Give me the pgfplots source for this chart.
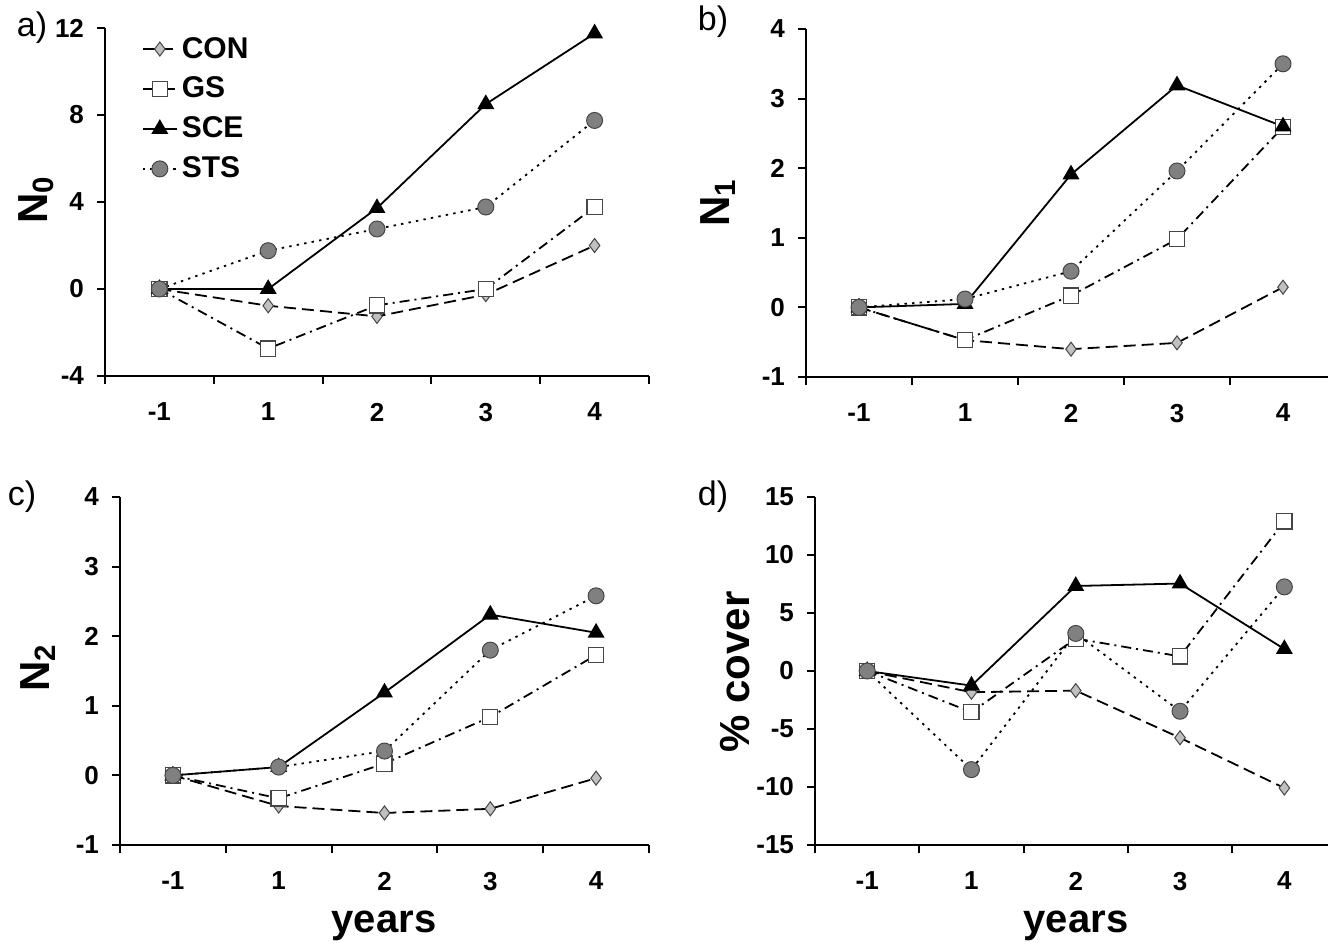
\documentclass[border=0pt]{standalone}
\usepackage{fontspec}
\setmainfont{Liberation Sans}
\usepackage{pgfplots}
\pgfplotsset{compat=1.18}

\definecolor{conf}{RGB}{192,192,192}
\definecolor{stsf}{RGB}{128,128,128}
\definecolor{edge}{RGB}{70,70,70}

\pgfplotsset{
  panel/.style={
    scale only axis, anchor=south west, clip=false,
    axis lines*=left, axis line style={line width=1pt, black},
    xmin=-0.5, xmax=4.5,
    xtick={-0.5,0.5,1.5,2.5,3.5,4.5}, xticklabels={},
    extra x ticks={0,1,2,3,4}, extra x tick labels={-1,1,2,3,4},
    extra x tick style={major tick length=0pt},
    major tick length=4pt, tick align=outside,
    tick style={line width=1pt, black},
    ticklabel style={font=\fontsize{13}{14}\selectfont\bfseries},
    xticklabel style={yshift=-10pt},
    yticklabel style={xshift=-3pt},
  },
  con/.style={black, line width=0.9pt, dash pattern=on 6pt off 3pt,
    mark=diamond*, mark size=3.5pt, mark options={solid, fill=conf, draw=edge, line width=0.5pt}},
  gs/.style={black, line width=0.9pt, dash pattern=on 5pt off 2.5pt on 1pt off 2.5pt,
    mark=square*, mark size=3.8pt, mark options={solid, fill=white, draw=edge, line width=0.6pt}},
  sce/.style={black, line width=0.9pt, solid,
    mark=triangle*, mark size=4pt, mark options={solid, fill=black, draw=black}},
  sts/.style={black, line width=0.9pt, dash pattern=on 1.2pt off 2.6pt,
    mark=*, mark size=4pt, mark options={solid, fill=stsf, draw=edge, line width=0.5pt}},
}

\begin{document}
\begin{tikzpicture}
\clip (0,0) rectangle (664pt,472pt);

% a) N0
\begin{axis}[panel, at={(52.5pt,284pt)}, width=272pt, height=174pt,
  ymin=-4, ymax=12, ytick={-4,0,4,8,12}, yticklabels={-4,0,4,8,12},
  legend style={draw=none, fill=none, at={(0.056,0.998)}, anchor=north west,
    font=\fontsize{15}{17}\selectfont\bfseries, row sep=4pt},
  legend cell align=left]
\addplot[con] coordinates {(0,0) (1,-0.77) (2,-1.26) (3,-0.26) (4,2.0)};
\addplot[gs] coordinates {(0,0) (1,-2.74) (2,-0.75) (3,0.0) (4,3.77)};
\addplot[sce] coordinates {(0,0) (1,0) (2,3.72) (3,8.5) (4,11.75)};
\addplot[sts] coordinates {(0,0) (1,1.76) (2,2.76) (3,3.77) (4,7.75)};
\legend{CON,GS,SCE,STS}
\end{axis}

% b) N1
\begin{axis}[panel, at={(403pt,283.5pt)}, width=265pt, height=174pt,
  ymin=-1, ymax=4, ytick={-1,0,1,2,3,4}, yticklabels={-1,0,1,2,3,4}]
\addplot[con] coordinates {(0,0) (1,-0.47) (2,-0.60) (3,-0.51) (4,0.29)};
\addplot[gs] coordinates {(0,0) (1,-0.47) (2,0.17) (3,0.98) (4,2.59)};
\addplot[sce] coordinates {(0,0) (1,0.05) (2,1.91) (3,3.19) (4,2.60)};
\addplot[sts] coordinates {(0,0) (1,0.12) (2,0.52) (3,1.96) (4,3.50)};
\end{axis}

% c) N2
\begin{axis}[panel, at={(60pt,49.5pt)}, width=264.5pt, height=174pt,
  ymin=-1, ymax=4, ytick={-1,0,1,2,3,4}, yticklabels={-1,0,1,2,3,4}]
\addplot[con] coordinates {(0,0) (1,-0.44) (2,-0.54) (3,-0.48) (4,-0.04)};
\addplot[gs] coordinates {(0,0) (1,-0.33) (2,0.17) (3,0.84) (4,1.73)};
\addplot[sce] coordinates {(0,0) (1,0.12) (2,1.19) (3,2.31) (4,2.05)};
\addplot[sts] coordinates {(0,0) (1,0.12) (2,0.35) (3,1.80) (4,2.58)};
\end{axis}

% d) % cover
\begin{axis}[panel, at={(407.5pt,49.5pt)}, width=260.75pt, height=174pt,
  ymin=-15, ymax=15, ytick={-15,-10,-5,0,5,10,15}, yticklabels={-15,-10,-5,0,5,10,15}]
\addplot[con] coordinates {(0,0) (1,-1.83) (2,-1.69) (3,-5.76) (4,-10.09)};
\addplot[gs] coordinates {(0,0) (1,-3.55) (2,2.8) (3,1.26) (4,12.9)};
\addplot[sce] coordinates {(0,0) (1,-1.26) (2,7.33) (3,7.54) (4,1.89)};
\addplot[sts] coordinates {(0,0) (1,-8.5) (2,3.24) (3,-3.47) (4,7.25)};
\end{axis}

% panel letters and axis titles
\begin{scope}[every node/.style={inner sep=0pt}]
\node[font=\fontsize{17}{19}\selectfont] at (16pt,458pt) {a)};
\node[font=\fontsize{17}{19}\selectfont] at (356.5pt,461pt) {b)};
\node[font=\fontsize{17}{19}\selectfont] at (11pt,223.5pt) {c)};
\node[font=\fontsize{17}{19}\selectfont] at (356.5pt,223.5pt) {d)};
\node[rotate=90, font=\fontsize{21}{23}\selectfont\bfseries] at (18pt,372pt) {N\textsubscript{0}};
\node[rotate=90, font=\fontsize{21}{23}\selectfont\bfseries] at (359pt,370.5pt) {N\textsubscript{1}};
\node[rotate=90, font=\fontsize{21}{23}\selectfont\bfseries] at (19pt,138pt) {N\textsubscript{2}};
\node[rotate=90, font=\fontsize{21}{23}\selectfont\bfseries] at (367.5pt,136pt) {\% cover};
\node[font=\fontsize{20}{22}\selectfont\bfseries] at (192pt,9pt) {years};
\node[font=\fontsize{20}{22}\selectfont\bfseries] at (538pt,9pt) {years};
\end{scope}
\end{tikzpicture}
\end{document}
